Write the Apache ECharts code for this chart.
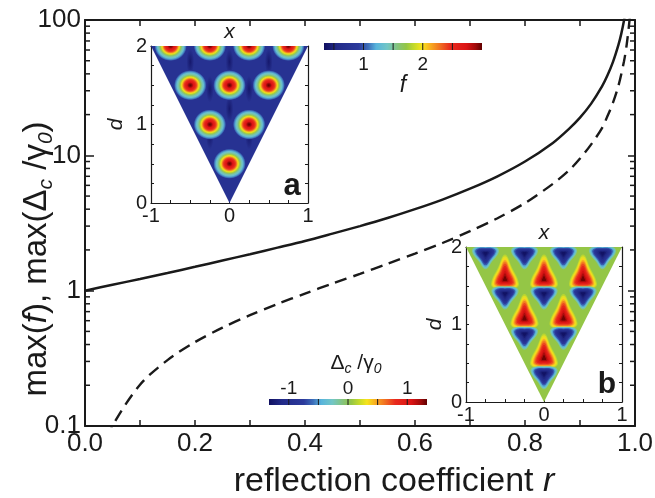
<!DOCTYPE html>
<html><head><meta charset="utf-8">
<script src="https://cdn.jsdelivr.net/npm/echarts@6/dist/echarts.min.js"></script>
<style>html,body{margin:0;padding:0;background:#fff}#c{width:655px;height:498px}</style>
</head><body><div id="c"></div>
<script>
// ---------------- data ----------------
const rSolid   = [0,0.05,0.1,0.15,0.2,0.25,0.3,0.35,0.4,0.45,0.5,0.55,0.6,0.65,0.7,0.75,0.8,0.85,0.88,0.9,0.92,0.94,0.95,0.96,0.97,0.975,0.98,0.985];
const maxF     = [1.0,1.105,1.22,1.35,1.5,1.67,1.86,2.08,2.33,2.64,3.0,3.44,4.0,4.71,5.67,7.0,9.0,12.3,15.7,19.0,24.0,32.3,39.0,49.0,65.7,79,99,132];
const rDashed  = [0.03,0.05,0.1,0.15,0.2,0.25,0.3,0.35,0.4,0.45,0.5,0.55,0.6,0.65,0.7,0.75,0.8,0.85,0.88,0.9,0.92,0.94,0.95,0.96,0.97,0.98,0.985,0.99,0.993];
const maxDelta = [0.06,0.1,0.202,0.307,0.417,0.533,0.659,0.798,0.952,1.13,1.33,1.58,1.88,2.25,2.75,3.43,4.44,6.13,7.74,9.47,12.0,15.9,19.5,24.5,32.8,49.5,66.2,99.5,142];
const yMinorTicks = [0.2,0.3,0.4,0.5,0.6,0.7,0.8,0.9,2,3,4,5,6,7,8,9,20,30,40,50,60,70,80,90];
const insetTriangle = [[-1,2],[1,2],[0,0]];
const spotsA  = [[-0.75,2],[-0.25,2],[0.25,2],[0.75,2],[-0.5,1.5],[0,1.5],[0.5,1.5],[-0.25,1],[0.25,1],[0,0.5]];
const minimaA = [[-0.5,1.8],[0,1.8],[0.5,1.8],[-0.25,1.45],[0.25,1.45],[0,1.2],[-0.25,0.85],[0.25,0.85]];
const redB  = [[-0.5,1.58],[0,1.58],[0.5,1.58],[-0.25,1.07],[0.25,1.07],[0,0.56]];
const blueB = [[-0.75,1.92],[-0.25,1.92],[0.25,1.92],[0.75,1.92],[-0.5,1.40],[0,1.40],[0.5,1.40],[-0.25,0.88],[0.25,0.88],[0,0.37]];
const fRange = [1/3, 3];   const fTicks = [0.5,1,1.5,2,2.5];  const fLabels = [1,2];
const dRange = [-4/3, 4/3]; const dTicks = [-1,-0.5,0,0.5,1]; const dLabels = [-1,0,1];

// ---------------- styling helpers ----------------
const FONT = "'Liberation Sans', Arial, Helvetica, sans-serif";
const INK = '#1a1a1a';
const CMAP = [[0,'#101060'],[0.08,'#222a88'],[0.22,'#2c3a9c'],[0.28,'#3d6fba'],[0.33,'#58b4dc'],[0.40,'#72c6c6'],[0.47,'#86c478'],[0.52,'#94c646'],[0.57,'#c4da2a'],[0.62,'#f6e41c'],[0.67,'#f8b020'],[0.74,'#f06a22'],[0.80,'#e82a1e'],[0.90,'#dc1414'],[0.96,'#a00a0a'],[1,'#600000']];
function hex(h){return [parseInt(h.slice(1,3),16),parseInt(h.slice(3,5),16),parseInt(h.slice(5,7),16)];}
function cmap(t){
  t=Math.max(0,Math.min(1,t));
  for(let i=1;i<CMAP.length;i++){
    if(t<=CMAP[i][0]){
      const t0=CMAP[i-1][0],t1=CMAP[i][0],a=hex(CMAP[i-1][1]),b=hex(CMAP[i][1]);
      const u=(t-t0)/(t1-t0);
      return 'rgb('+a.map((v,k)=>Math.round(v+(b[k]-v)*u)).join(',')+')';
    }
  }
  return CMAP[CMAP.length-1][1];
}
const barGradient = {type:'linear',x:0,y:0,x2:1,y2:0,colorStops:CMAP.map(s=>({offset:s[0],color:s[1]}))};
const BG_A = cmap(0.15), BG_B = cmap(0.52);
const spotStopsA = [[0,1.0],[0.1,0.97],[0.2,0.9],[0.3,0.84],[0.38,0.78],[0.45,0.71],[0.5,0.65],[0.55,0.6],[0.6,0.55],[0.66,0.48],[0.74,0.42],[0.82,0.37],[0.9,0.3],[1,0.15]];
const spotGradA = {type:'radial',x:0.5,y:0.5,r:0.5,colorStops:spotStopsA.map(s=>({offset:s[0],color:cmap(s[1])}))};
const minGrad = {type:'radial',x:0.5,y:0.5,r:0.5,colorStops:[{offset:0,color:'rgba(16,16,96,0.75)'},{offset:1,color:'rgba(16,16,96,0)'}]};
const RED_SHAPE  = [[0,-25],[7,-12],[14,4],[11,8.5],[0,9.5],[-11,8.5],[-14,4],[-7,-12]];
const BLUE_SHAPE = [[0,16],[6.5,8.5],[13.5,-1.5],[11,-6],[0,-7],[-11,-6],[-13.5,-1.5],[-6.5,8.5]];
const RED_LEVELS  = [[1.0,0.56],[0.93,0.6],[0.86,0.63],[0.79,0.67],[0.72,0.72],[0.64,0.77],[0.55,0.82],[0.45,0.87],[0.35,0.91],[0.25,0.95],[0.15,0.99]];
const BLUE_LEVELS = [[1.0,0.44],[0.92,0.38],[0.84,0.32],[0.76,0.26],[0.66,0.2],[0.56,0.15],[0.46,0.11],[0.36,0.07],[0.26,0.04],[0.16,0.01]];

function triPts(api){return insetTriangle.map(p=>api.coord(p));}
function nested(c, shape, levels){
  return levels.map(l=>({type:'polygon',shape:{points:shape.map(p=>[c[0]+p[0]*l[0],c[1]+p[1]*l[0]]),smooth:0.45},style:{fill:cmap(l[1])}}));
}

// ---------------- axes ----------------
function insetX(grid, top){
  return {gridIndex:grid,type:'value',min:-1,max:1,interval:0.25,position:top?'top':'bottom',
    axisLine:{show:true,onZero:false,lineStyle:{color:INK,width:1.2}},
    axisTick:{show:true,inside:true,length:3,lineStyle:{color:INK,width:1}},
    axisLabel:{show:!top,margin:3,fontSize:20,fontFamily:FONT,color:INK,formatter:v=>Number.isInteger(v)?String(v):''},
    splitLine:{show:false},
    name:top?'x':'',nameLocation:'middle',nameGap:3,
    nameTextStyle:{fontSize:21,fontStyle:'italic',fontFamily:FONT,color:INK}};
}
function insetY(grid, right, gap){
  return {gridIndex:grid,type:'value',min:0,max:2,interval:0.25,position:right?'right':'left',
    axisLine:{show:true,onZero:false,lineStyle:{color:INK,width:1.2}},
    axisTick:{show:true,inside:true,length:3,lineStyle:{color:INK,width:1}},
    axisLabel:{show:!right,margin:4,fontSize:20,fontFamily:FONT,color:INK,formatter:v=>Number.isInteger(v)?String(v):''},
    splitLine:{show:false},
    name:right?'':'d',nameLocation:'middle',nameRotate:90,nameGap:gap,
    nameTextStyle:{fontSize:21,fontStyle:'italic',fontFamily:FONT,color:INK}};
}
function mainX(top){
  return {gridIndex:0,type:'value',min:0,max:1,interval:0.2,position:top?'top':'bottom',
    axisLine:{show:true,onZero:false,lineStyle:{color:INK,width:2}},
    axisTick:{show:true,inside:true,length:6,lineStyle:{color:INK,width:1.5}},
    minorTick:{show:true,splitNumber:2,length:6,lineStyle:{color:INK,width:1.5}},
    axisLabel:{show:!top,margin:5,fontSize:26,fontFamily:FONT,color:INK,formatter:v=>v.toFixed(1)},
    splitLine:{show:false},minorSplitLine:{show:false},
    name:top?'':'{n|reflection coefficient }{i|r}',nameLocation:'middle',nameGap:36,
    nameTextStyle:{padding:[0,0,0,68],rich:{
      n:{fontSize:34,lineHeight:40,fontFamily:FONT,color:INK},
      i:{fontSize:34,lineHeight:40,fontFamily:FONT,fontStyle:'italic',color:INK}}}};
}
function mainY(right){
  return {gridIndex:0,type:'log',logBase:10,min:0.1,max:100,position:right?'right':'left',
    axisLine:{show:true,onZero:false,lineStyle:{color:INK,width:2}},
    axisTick:{show:true,inside:true,length:right?7:9,lineStyle:{color:INK,width:1.5}},
    axisLabel:{show:!right,margin:4,fontSize:26,fontFamily:FONT,color:INK,formatter:v=>String(+Number(v).toPrecision(3))},
    splitLine:{show:false},
    name:right?'':'{n|max(}{i|f}{n|), max(Δ}{s|c}{n| /γ}{s|0}{n|)}',
    nameLocation:'middle',nameRotate:90,nameGap:28,nameMoveOverlap:false,
    nameTextStyle:{padding:[0,72,0,0],rich:{
      n:{fontSize:33,lineHeight:40,fontFamily:FONT,color:INK},
      i:{fontSize:33,lineHeight:40,fontFamily:FONT,fontStyle:'italic',color:INK},
      s:{fontSize:21,lineHeight:21,fontFamily:FONT,fontStyle:'italic',color:INK,verticalAlign:'bottom'}}}};
}
function hiddenAxis(grid, min, max){
  return {gridIndex:grid,type:'value',min:min,max:max,show:false,splitLine:{show:false}};
}

const grids = [
  {left:85,top:20,width:550,height:406},
  {left:151,top:46,width:157,height:157},
  {left:466,top:247,width:156,height:155},
  {left:324,top:43,width:158,height:7},
  {left:269,top:399,width:158,height:6}
].map(g=>Object.assign({containLabel:false,outerBoundsMode:'none',show:false},g));

const xAxes = [mainX(false),mainX(true),insetX(1,false),insetX(1,true),insetX(2,false),insetX(2,true),
  hiddenAxis(3,fRange[0],fRange[1]),hiddenAxis(4,dRange[0],dRange[1])];
const yAxes = [mainY(false),mainY(true),insetY(1,false,24),insetY(1,true,0),insetY(2,false,20),insetY(2,true,0),
  hiddenAxis(3,0,1),hiddenAxis(4,0,1)];

// ---------------- series ----------------
const series = [
  {type:'line',xAxisIndex:0,yAxisIndex:0,data:rSolid.map((v,i)=>[v,maxF[i]]),showSymbol:false,symbol:'none',
   smooth:0.3,lineStyle:{color:INK,width:2.5},z:3,silent:true},
  {type:'line',xAxisIndex:0,yAxisIndex:0,data:rDashed.map((v,i)=>[v,maxDelta[i]]),showSymbol:false,symbol:'none',
   smooth:0.3,lineStyle:{color:INK,width:2.4,type:[12,7]},z:3,silent:true},
  // minor log ticks on main plot
  {type:'custom',xAxisIndex:0,yAxisIndex:0,data:yMinorTicks.map(v=>[0,v]),silent:true,z:4,
   renderItem:(p,api)=>{const a=api.coord([0,api.value(1)]),b=api.coord([1,api.value(1)]);
     return {type:'group',children:[
       {type:'line',shape:{x1:a[0],y1:a[1],x2:a[0]+5,y2:a[1]},style:{stroke:INK,lineWidth:1.5}},
       {type:'line',shape:{x1:b[0]-5,y1:b[1],x2:b[0],y2:b[1]},style:{stroke:INK,lineWidth:1.5}}]};}},
  // inset a background
  {type:'custom',xAxisIndex:2,yAxisIndex:2,data:[[0,0]],silent:true,z:2,
   renderItem:(p,api)=>({type:'polygon',shape:{points:triPts(api)},style:{fill:BG_A}})},
  {type:'custom',xAxisIndex:2,yAxisIndex:2,data:minimaA,silent:true,z:2,
   renderItem:(p,api)=>{const c=api.coord([api.value(0),api.value(1)]);
     return {type:'group',clipPath:{type:'polygon',shape:{points:triPts(api)}},children:[
       {type:'circle',x:c[0],y:c[1],scaleX:0.35,scaleY:1.2,shape:{cx:0,cy:0,r:11},style:{fill:minGrad}}]};}},
  {type:'custom',xAxisIndex:2,yAxisIndex:2,data:spotsA,silent:true,z:2,
   renderItem:(p,api)=>{const c=api.coord([api.value(0),api.value(1)]);
     return {type:'group',clipPath:{type:'polygon',shape:{points:triPts(api)}},children:[
       {type:'circle',x:c[0],y:c[1],scaleX:1.08,shape:{cx:0,cy:0,r:15},style:{fill:spotGradA}}]};}},
  // inset b
  {type:'custom',xAxisIndex:4,yAxisIndex:4,data:[[0,0]],silent:true,z:2,
   renderItem:(p,api)=>({type:'polygon',shape:{points:triPts(api)},style:{fill:BG_B}})},
  {type:'custom',xAxisIndex:4,yAxisIndex:4,data:redB,silent:true,z:2,
   renderItem:(p,api)=>{const c=api.coord([api.value(0),api.value(1)]);
     return {type:'group',clipPath:{type:'polygon',shape:{points:triPts(api)}},children:nested(c,RED_SHAPE,RED_LEVELS)};}},
  {type:'custom',xAxisIndex:4,yAxisIndex:4,data:blueB,silent:true,z:2,
   renderItem:(p,api)=>{const c=api.coord([api.value(0),api.value(1)]);
     return {type:'group',clipPath:{type:'polygon',shape:{points:triPts(api)}},children:nested(c,BLUE_SHAPE,BLUE_LEVELS)};}},
  // colorbar f
  {type:'custom',xAxisIndex:6,yAxisIndex:6,data:[[0,0]],silent:true,z:5,
   renderItem:(p,api)=>{const tl=api.coord([fRange[0],1]),br=api.coord([fRange[1],0]);
     const ch=[{type:'rect',shape:{x:tl[0],y:tl[1],width:br[0]-tl[0],height:br[1]-tl[1]},style:{fill:barGradient}}];
     fTicks.forEach(v=>{const x=api.coord([v,0])[0];ch.push({type:'line',shape:{x1:x,y1:tl[1],x2:x,y2:br[1]},style:{stroke:INK,lineWidth:1}});});
     fLabels.forEach(v=>{const x=api.coord([v,0])[0];ch.push({type:'text',style:{text:String(v),x:x,y:br[1]+5,textAlign:'center',textVerticalAlign:'top',font:'19px '+FONT,fill:INK}});});
     ch.push({type:'text',style:{text:'f',x:(tl[0]+br[0])/2,y:br[1]+24,textAlign:'center',textVerticalAlign:'top',font:'italic 23px '+FONT,fill:INK}});
     return {type:'group',children:ch};}},
  // colorbar delta
  {type:'custom',xAxisIndex:7,yAxisIndex:7,data:[[0,0]],silent:true,z:5,
   renderItem:(p,api)=>{const tl=api.coord([dRange[0],1]),br=api.coord([dRange[1],0]);
     const ch=[{type:'rect',shape:{x:tl[0],y:tl[1],width:br[0]-tl[0],height:br[1]-tl[1]},style:{fill:barGradient}}];
     dTicks.forEach(v=>{const x=api.coord([v,0])[0];ch.push({type:'line',shape:{x1:x,y1:tl[1],x2:x,y2:br[1]},style:{stroke:INK,lineWidth:1}});});
     dLabels.forEach(v=>{const x=api.coord([v,0])[0];ch.push({type:'text',style:{text:String(v),x:x,y:tl[1]-1,textAlign:'center',textVerticalAlign:'bottom',font:'19px '+FONT,fill:INK}});});
     ch.push({type:'text',style:{text:'{n|Δ}{s|c}{n| /γ}{s|0}',x:(tl[0]+br[0])/2+8,y:tl[1]-23,textAlign:'center',textVerticalAlign:'bottom',
       rich:{n:{fontSize:21,lineHeight:26,fontFamily:FONT,fill:INK,color:INK},s:{fontSize:14,lineHeight:14,fontStyle:'italic',fontFamily:FONT,fill:INK,color:INK,verticalAlign:'bottom'}}}});
     return {type:'group',children:ch};}}
];

const chart = echarts.init(document.getElementById('c'),null,{renderer:'canvas'});
chart.setOption({
  animation:false,backgroundColor:'#fff',
  grid:grids,xAxis:xAxes,yAxis:yAxes,series:series,
  graphic:[
    {type:'text',x:292,y:202,z:10,style:{text:'a',font:'bold 31px '+FONT,fill:INK,textAlign:'center',textVerticalAlign:'bottom'}},
    {type:'text',x:607,y:400,z:10,style:{text:'b',font:'bold 30px '+FONT,fill:INK,textAlign:'center',textVerticalAlign:'bottom'}}
  ]
});
</script></body></html>
